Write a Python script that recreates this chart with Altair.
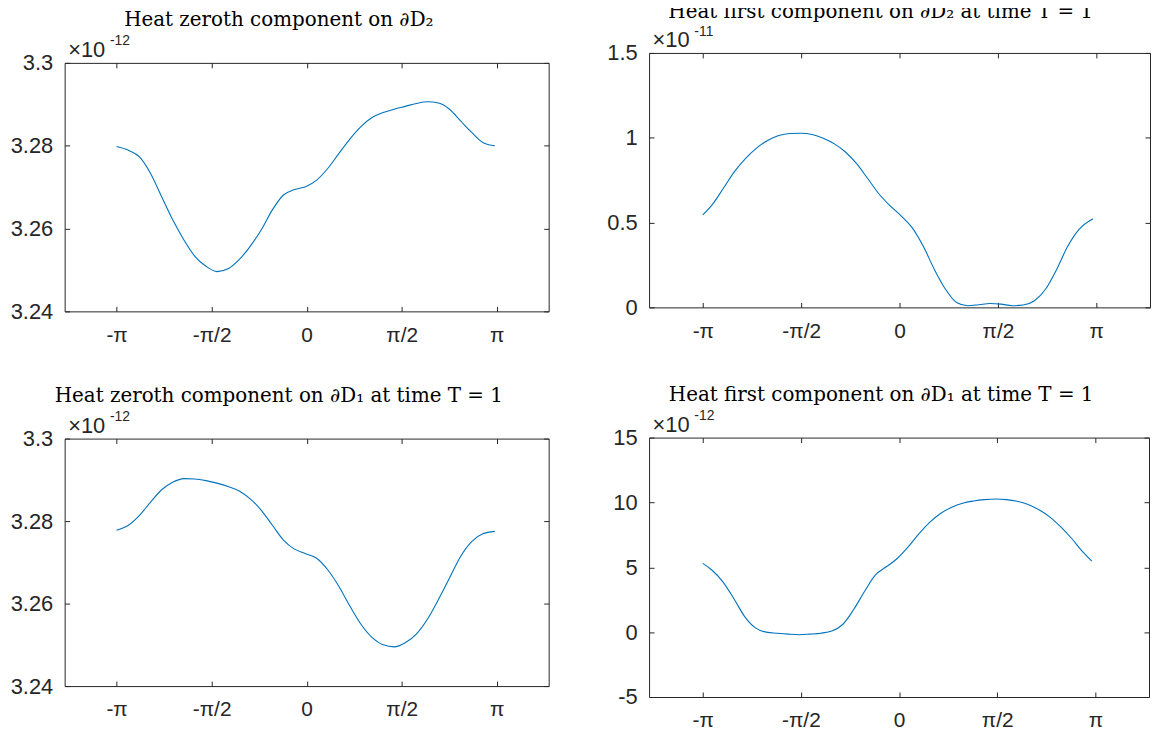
import math
import altair as alt
import pandas as pd

PI = math.pi

# ---------------- shared axis data ----------------
X_TICKS = [-PI, -PI / 2, 0.0, PI / 2, PI]
X_TICK_LABELS = ["-π", "-π/2", "0", "π/2", "π"]
X_DOMAIN = [-4, 4]

# ---------------- panel A: top-left ----------------
a_title = "Heat zeroth component on ∂D₂"
a_x = [-3.142, -2.946, -2.763, -2.580, -2.397, -2.214, -2.031, -1.848, -1.665, -1.482,
       -1.299, -1.116, -0.933, -0.750, -0.567, -0.384, -0.201, -0.018, 0.165, 0.348,
       0.531, 0.714, 0.897, 1.080, 1.263, 1.446, 1.629, 1.812, 1.995, 2.178,
       2.361, 2.544, 2.727, 2.910, 3.110]
a_y = [3.2798, 3.2789, 3.2773, 3.2733, 3.2677, 3.2621, 3.2573, 3.2533, 3.2509, 3.2496,
       3.2503, 3.2525, 3.2557, 3.2597, 3.2645, 3.2681, 3.2694, 3.2701, 3.2717, 3.2745,
       3.2781, 3.2816, 3.2846, 3.2868, 3.2880, 3.2888, 3.2895, 3.2902, 3.2906, 3.2903,
       3.2888, 3.2860, 3.2832, 3.2808, 3.2800]
a_ticks = [3.24, 3.26, 3.28, 3.3]
a_domain = [3.24, 3.3]
a_exp = "-12"

# ---------------- panel B: top-right ----------------
b_title = "Heat first component on ∂D₂ at time T = 1"
b_x = [-3.142, -2.994, -2.816, -2.639, -2.461, -2.284, -2.106, -1.929, -1.751, -1.574,
       -1.396, -1.219, -1.041, -0.864, -0.686, -0.509, -0.331, -0.154, 0.024, 0.201,
       0.379, 0.556, 0.734, 0.911, 1.089, 1.266, 1.444, 1.621, 1.799, 1.976,
       2.154, 2.331, 2.509, 2.686, 2.864, 3.090]
b_y = [0.545, 0.604, 0.701, 0.799, 0.877, 0.939, 0.984, 1.013, 1.025, 1.027,
       1.019, 0.997, 0.964, 0.916, 0.847, 0.760, 0.670, 0.600, 0.540, 0.470,
       0.360, 0.224, 0.107, 0.029, 0.010, 0.016, 0.023, 0.019, 0.010, 0.014,
       0.039, 0.107, 0.224, 0.360, 0.458, 0.522]
b_ticks = [0, 0.5, 1, 1.5]
b_domain = [0, 1.5]
b_exp = "-11"

# ---------------- panel C: bottom-left ----------------
c_title = "Heat zeroth component on ∂D₁ at time T = 1"
c_x = a_x
c_y = [3.2778, 3.2790, 3.2814, 3.2846, 3.2876, 3.2894, 3.2903, 3.2902, 3.2898, 3.2892,
       3.2884, 3.2873, 3.2854, 3.2826, 3.2790, 3.2754, 3.2732, 3.2721, 3.2710, 3.2682,
       3.2642, 3.2594, 3.2550, 3.2518, 3.2500, 3.2495, 3.2505, 3.2526, 3.2562, 3.2610,
       3.2662, 3.2714, 3.2750, 3.2769, 3.2775]
c_ticks = [3.24, 3.26, 3.28, 3.3]
c_domain = [3.24, 3.3]
c_exp = "-12"

# ---------------- panel D: bottom-right ----------------
d_title = "Heat first component on ∂D₁ at time T = 1"
d_x = [-3.142, -2.996, -2.822, -2.647, -2.473, -2.298, -2.124, -1.949, -1.775, -1.600,
       -1.426, -1.251, -1.077, -0.902, -0.728, -0.553, -0.378, -0.204, -0.029, 0.145,
       0.320, 0.494, 0.669, 0.843, 1.018, 1.192, 1.367, 1.541, 1.716, 1.890,
       2.065, 2.239, 2.414, 2.588, 2.763, 2.937, 3.083]
d_y = [5.30, 4.79, 3.90, 2.62, 1.22, 0.33, 0.00, -0.08, -0.15, -0.20,
       -0.15, -0.08, 0.08, 0.59, 1.73, 3.13, 4.41, 5.04, 5.68, 6.57,
       7.59, 8.48, 9.17, 9.63, 9.94, 10.11, 10.22, 10.27, 10.22, 10.09,
       9.84, 9.43, 8.87, 8.11, 7.22, 6.20, 5.48]
d_ticks = [-5, 0, 5, 10, 15]
d_domain = [-5, 15]
d_exp = "-12"

# ---------------- styling ----------------
TICK = 5
LINE_COLOR = "#0072BD"
AX_COLOR = "#262626"
LABEL_FONT = "Liberation Sans"
TITLE_FONT = "DejaVu Serif"
LABEL_SIZE = 21


def x_label_expr():
    expr = "''"
    for v, lab in reversed(list(zip(X_TICKS, X_TICK_LABELS))):
        expr = f"abs(datum.value - ({v:.6f})) < 0.001 ? '{lab}' : ({expr})"
    return expr


Y_LABEL_EXPR = ("datum.value < 0 ? '-' + format(-datum.value, '~g') "
                ": format(datum.value, '~g')")


def panel(xs, ys, yticks, ydomain, exponent, title, dx, width, height,
          extra_top=0, title_offset=-12):
    df = pd.DataFrame({"theta": xs, "value": ys})
    xscale = alt.Scale(domain=X_DOMAIN, nice=False, zero=False)
    yscale = alt.Scale(domain=ydomain, nice=False, zero=False)
    common = dict(offset=-TICK, tickSize=TICK, tickColor=AX_COLOR, tickWidth=1,
                  domain=False, grid=False)
    line = alt.Chart(df).mark_line(
        color=LINE_COLOR, strokeWidth=1.1, interpolate="monotone"
    ).encode(
        x=alt.X("theta:Q", scale=xscale, axis=alt.Axis(
            orient="bottom", values=X_TICKS, labelExpr=x_label_expr(),
            labelFont=LABEL_FONT, labelFontSize=LABEL_SIZE, labelColor=AX_COLOR,
            labelPadding=13, labelBaseline="top", labelFlush=False,
            labelOverlap=False, title=None, **common)),
        y=alt.Y("value:Q", scale=yscale, axis=alt.Axis(
            orient="left", values=yticks, labelExpr=Y_LABEL_EXPR,
            labelFont=LABEL_FONT, labelFontSize=LABEL_SIZE + 1, labelColor=AX_COLOR,
            labelPadding=12, labelBaseline="middle", labelFlush=False,
            labelOverlap=False, title="×10", titleAngle=0, titleAlign="left",
            titleBaseline="alphabetic", titleX=-2, titleY=-6,
            titleFont=LABEL_FONT, titleFontSize=LABEL_SIZE + 1,
            titleFontWeight="normal", titleColor=AX_COLOR, **common)),
    )
    frame = alt.Chart(df).mark_line(strokeOpacity=0).encode(
        x=alt.X("theta:Q", scale=xscale, axis=alt.Axis(
            orient="top", values=X_TICKS, labels=False, title=exponent,
            titleX=45, titleY=-23, titleAlign="left", titleBaseline="alphabetic",
            titleFont=LABEL_FONT, titleFontSize=14, titleFontWeight="normal",
            titleColor=AX_COLOR, **common)),
        y=alt.Y("value:Q", scale=yscale, axis=alt.Axis(
            orient="right", values=yticks, labels=False, title=None, **common)),
    )
    text = ["", title] if extra_top else title
    t = alt.TitleParams(
        text=text, font=TITLE_FONT, fontSize=20, fontWeight="normal",
        color="black", anchor="middle", frame="group", offset=title_offset,
        baseline="alphabetic", dx=dx, lineHeight=extra_top if extra_top else 22,
    )
    return (alt.layer(line, frame)
            .resolve_scale(x="independent", y="independent")
            .resolve_axis(x="independent", y="independent")
            .properties(width=width, height=height, title=t))


def spacer():
    # invisible 1x1 cell: the first grid row is always origin-aligned,
    # so the real panels go in the second row where each column keeps its own offset
    return (alt.Chart(pd.DataFrame({"v": [0]})).mark_point(opacity=0)
            .encode(x=alt.X("v:Q", axis=None), y=alt.Y("v:Q", axis=None))
            .properties(width=1, height=1,
                        view=alt.ViewBackground(strokeOpacity=0)))


tl = panel(a_x, a_y, a_ticks, a_domain, a_exp, a_title, -28, 487, 250, extra_top=10)
bl = panel(c_x, c_y, c_ticks, c_domain, c_exp, c_title, -28, 487, 249)
tr = panel(b_x, b_y, b_ticks, b_domain, b_exp, b_title, -19, 504, 256,
           extra_top=2, title_offset=-14)
br = panel(d_x, d_y, d_ticks, d_domain, d_exp, d_title, -18, 503, 261)

left_col = alt.vconcat(tl, bl, spacing=39)
right_col = alt.vconcat(tr, br, spacing=42)

chart = (alt.concat(spacer(), spacer(), left_col, right_col, columns=2, align="none",
                    spacing={"row": 0, "column": 56})
         .properties(padding={"left": 1, "top": -18, "right": 0, "bottom": 0},
                     background="white")
         .configure_view(stroke=AX_COLOR, strokeWidth=1))

chart.save("out.html", embed_options={"renderer": "svg", "actions": False})
